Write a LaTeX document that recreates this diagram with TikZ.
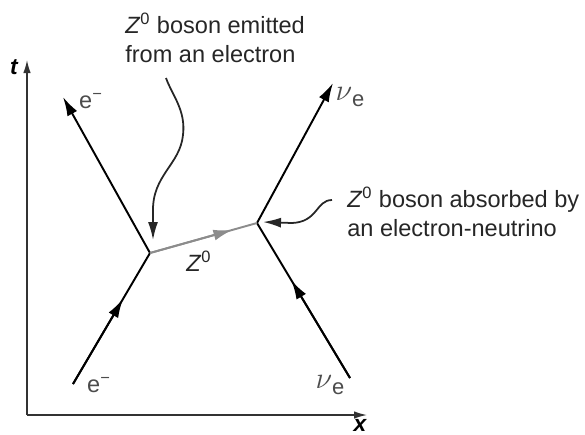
\documentclass[tikz,border=0pt]{standalone}
\usepackage{amsmath}
\usepackage{fontspec}
\setmainfont{Liberation Sans}
\usetikzlibrary{arrows.meta, calc}

\newcommand{\nue}{{\fontsize{19}{20}\selectfont$\nu$}\raisebox{-0.45ex}{\fontsize{12.5}{14}\selectfont e}}

\begin{document}
\begin{tikzpicture}[
    x=0.02cm, y=-0.02cm,
    >={Latex[length=3.8mm, width=2.2mm]},
    font=\fontsize{13.4}{16.4}\selectfont,
    axis/.style  = {-{Latex[length=2.6mm, width=1.5mm]}, line width=0.8pt, black!80},
    world/.style = {line width=1.1pt, black},
    boson/.style = {line width=1.1pt, black!45},
    note/.style  = {-{Latex[length=3.6mm, width=2mm]}, line width=1pt, black!85},
    plab/.style  = {text=black!70, inner sep=0pt},
    alab/.style  = {font=\fontsize{13}{16}\selectfont\bfseries\itshape, inner sep=0pt},
    txt/.style   = {anchor=base west, align=left, text=black!85, inner sep=0pt}
  ]
  \useasboundingbox (0,0) rectangle (585,434);

  % --- axes ---
  \coordinate (O)    at (27,415);
  \coordinate (tend) at (27,60);
  \coordinate (xend) at (367,415);
  \draw[axis] (O) -- (tend);
  \draw[axis] (O) -- (xend);
  \node[alab] (tlab) at (14,67)  {t};
  \node[alab] (xlab) at (360,425) {x};

  % --- vertices and ends ---
  \coordinate (A)    at (150,253);
  \coordinate (B)    at (257,223);
  \coordinate (ein)  at (73,384);
  \coordinate (eout) at (63,97);
  \coordinate (nin)  at (350,378);
  \coordinate (nout) at (333,83);

  % --- world lines ---
  \draw[world] (ein) -- (A);
  \draw[world, ->] (ein) -- ($(ein)!0.65!(A)$);
  \draw[world, ->] (A) -- (eout);
  \draw[world] (nin) -- (B);
  \draw[world, ->] (nin) -- ($(nin)!0.63!(B)$);
  \draw[world, ->] (B) -- (nout);
  \draw[boson] (A) -- (B);
  \draw[boson, ->] (A) -- ($(A)!0.77!(B)$);

  % --- particle labels ---
  \node[plab] (eoutlab) at (91,101)  {e\textsuperscript{−}};
  \node[plab] (einlab)  at (99,385)  {e\textsuperscript{−}};
  \node[plab] (noutlab) at (350,97)  {\nue};
  \node[plab] (ninlab)  at (330,385) {\nue};
  \node[plab, text=black!85] (zlab) at (199,261) {\textit{Z}\textsuperscript{0}};

  % --- notes ---
  \node[txt] (emit) at (125,62)
    {\textit{Z}\textsuperscript{0} boson emitted\\from an electron};
  \node[txt] (absorb) at (347,236)
    {\textit{Z}\textsuperscript{0} boson absorbed by\\an electron-neutrino};

  \coordinate (emitfrom) at (166,78);
  \coordinate (emitto)   at (153,240);
  \coordinate (absfrom)  at (332,200);
  \coordinate (absto)    at (263,222);
  \draw[note] (emitfrom) .. controls (172,95) and (186,110) .. (183,135)
    .. controls (180,165) and (152,175) .. (153,212) -- (emitto);
  \draw[note] (absfrom) .. controls (316,200) and (318,222) .. (292,223) -- (absto);

\end{tikzpicture}
\end{document}
